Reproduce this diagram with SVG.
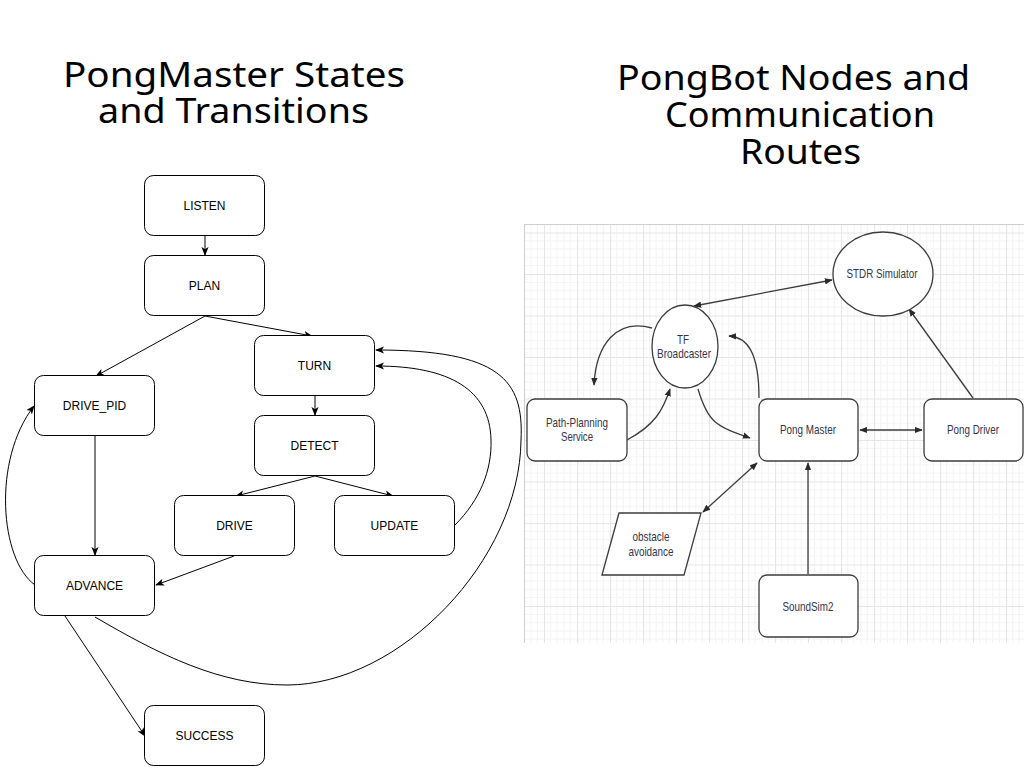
<svg xmlns="http://www.w3.org/2000/svg" width="1024" height="768" viewBox="0 0 1024 768">
<defs>
<style>
.title{font-family:"Noto Sans","Liberation Sans",sans-serif;font-size:34px;fill:#000;text-anchor:middle}
.box{fill:#fff;stroke:#000;stroke-width:1}
.lbl{font-family:"Liberation Sans",Arial,sans-serif;font-size:12px;fill:#000;text-anchor:middle}
.edge{fill:none;stroke:#000;stroke-width:1;marker-end:url(#arrL)}
.rnode{fill:#fff;stroke:#3c3c3c;stroke-width:1.3}
.rlbl{font-family:"Liberation Sans",Arial,sans-serif;font-size:13.5px;fill:#34344a;text-anchor:middle}
.redge{fill:none;stroke:#3c3c3c;stroke-width:1.3;marker-end:url(#arrR)}
.rdbl{marker-start:url(#arrR)}
</style>
<marker id="arrL" viewBox="0 0 10 8" refX="9" refY="4" markerWidth="9" markerHeight="7.5" markerUnits="userSpaceOnUse" orient="auto-start-reverse">
<path d="M0,0 L10,4 L0,8 L2.5,4 Z" fill="#000"/>
</marker>
<marker id="arrR" viewBox="0 0 10 8" refX="9" refY="4" markerWidth="8" markerHeight="7" markerUnits="userSpaceOnUse" orient="auto-start-reverse">
<path d="M0,0 L10,4 L0,8 Z" fill="#2a2a2a"/>
</marker>
<pattern id="grid" patternUnits="userSpaceOnUse" x="544" y="274" width="33" height="41.5">
<rect width="33" height="41.5" fill="#fff"/>
<g stroke="#f4f4f4" stroke-width="1">
<path d="M6.6,0V41.5M13.2,0V41.5M19.8,0V41.5M26.4,0V41.5"/>
<path d="M0,8.3H33M0,16.6H33M0,24.9H33M0,33.2H33"/>
</g>
<g stroke="#e6e6e6" stroke-width="1.2">
<path d="M0.5,0V41.5M0,0.5H33"/>
</g>
</pattern>
</defs>
<rect width="1024" height="768" fill="#fff"/>

<!-- titles -->
<g id="title-left">
<text class="title" x="234" y="87" textLength="342" lengthAdjust="spacingAndGlyphs">PongMaster States</text>
<text class="title" x="233.5" y="123" textLength="271" lengthAdjust="spacingAndGlyphs">and Transitions</text>
</g>
<g id="title-right">
<text class="title" x="793.5" y="90" textLength="353" lengthAdjust="spacingAndGlyphs">PongBot Nodes and</text>
<text class="title" x="800" y="127" textLength="270" lengthAdjust="spacingAndGlyphs">Communication</text>
<text class="title" x="800.5" y="164" textLength="121" lengthAdjust="spacingAndGlyphs">Routes</text>
</g>

<!-- left state diagram -->
<g id="left-connectors">
<path class="edge" d="M205,236 L205,255"/>
<path class="edge" d="M205,316 L96,376"/>
<path class="edge" d="M205,316 L312,336"/>
<path class="edge" d="M315,396 L315,415"/>
<path class="edge" d="M95,436 L95,555"/>
<path class="edge" d="M315,476 L236,496"/>
<path class="edge" d="M315,476 L393,496"/>
<path class="edge" d="M234,556 L156,585"/>
<path class="edge" d="M65,616 L145,736"/>
<path class="edge" d="M35,585 C0,560 -8,460 34,406"/>
<path class="edge" d="M455,525 C480,500 492,470 491,440 C490,390 450,366 376,366"/>
<path class="edge" d="M95,617 C160,655 220,685 287,685 C400,685 520,560 521,440 C524,380 500,350 376,350"/>
</g>
<g id="n-listen"><rect class="box" x="144.5" y="175.5" width="120" height="60" rx="9"/><text class="lbl" x="204.5" y="210">LISTEN</text></g>
<g id="n-plan"><rect class="box" x="144.5" y="255.5" width="120" height="60" rx="9"/><text class="lbl" x="204.5" y="290">PLAN</text></g>
<g id="n-turn"><rect class="box" x="254.5" y="335.5" width="120" height="60" rx="9"/><text class="lbl" x="314.5" y="370">TURN</text></g>
<g id="n-drive-pid"><rect class="box" x="34.5" y="375.5" width="120" height="60" rx="9"/><text class="lbl" x="94.5" y="410">DRIVE_PID</text></g>
<g id="n-detect"><rect class="box" x="254.5" y="415.5" width="120" height="60" rx="9"/><text class="lbl" x="314.5" y="450">DETECT</text></g>
<g id="n-drive"><rect class="box" x="174.5" y="495.5" width="120" height="60" rx="9"/><text class="lbl" x="234.5" y="530">DRIVE</text></g>
<g id="n-update"><rect class="box" x="334.5" y="495.5" width="120" height="60" rx="9"/><text class="lbl" x="394.5" y="530">UPDATE</text></g>
<g id="n-advance"><rect class="box" x="34.5" y="555.5" width="120" height="60" rx="9"/><text class="lbl" x="94.5" y="590">ADVANCE</text></g>
<g id="n-success"><rect class="box" x="144.5" y="705.5" width="120" height="60" rx="9"/><text class="lbl" x="204.5" y="740">SUCCESS</text></g>

<!-- right node diagram -->
<g id="grid-bg">
<rect x="524" y="224" width="500" height="419" fill="url(#grid)"/>
<path d="M524.5,224 V643 M524,224.5 H1024" stroke="#cfcfcf" stroke-width="1" fill="none"/>
</g>
<g id="right-connectors">
<path class="redge rdbl" d="M694,306 L832,280"/>
<path class="redge" d="M652,328 C616,318 596,345 594,385"/>
<path class="redge" d="M627,440 C655,425 663,410 670,389"/>
<path class="redge" d="M698,389 C708,423 716,426 750,438"/>
<path class="redge" d="M759,398 C759,352 747,337 729,336"/>
<path class="redge rdbl" d="M860,430 L922,430"/>
<path class="redge" d="M973,398 L909,309"/>
<path class="redge rdbl" d="M703,512 L757,463"/>
<path class="redge" d="M808,574 L808,463"/>
</g>
<g id="r-stdr"><ellipse class="rnode" cx="883" cy="274" rx="50" ry="42"/><text class="rlbl" x="882" y="278" textLength="71" lengthAdjust="spacingAndGlyphs">STDR Simulator</text></g>
<g id="r-tf"><ellipse class="rnode" cx="685" cy="346.5" rx="33" ry="41.5"/><text class="rlbl" x="683" y="344" textLength="12" lengthAdjust="spacingAndGlyphs">TF</text><text class="rlbl" x="684" y="358" textLength="54" lengthAdjust="spacingAndGlyphs">Broadcaster</text></g>
<g id="r-path"><rect class="rnode" x="527" y="399" width="100" height="62" rx="8"/><text class="rlbl" x="577" y="427" textLength="62" lengthAdjust="spacingAndGlyphs">Path-Planning</text><text class="rlbl" x="577" y="441" textLength="32" lengthAdjust="spacingAndGlyphs">Service</text></g>
<g id="r-master"><rect class="rnode" x="759" y="399" width="99" height="62" rx="8"/><text class="rlbl" x="808" y="434" textLength="56" lengthAdjust="spacingAndGlyphs">Pong Master</text></g>
<g id="r-driver"><rect class="rnode" x="924" y="399" width="99" height="62" rx="8"/><text class="rlbl" x="973" y="434" textLength="52" lengthAdjust="spacingAndGlyphs">Pong Driver</text></g>
<g id="r-obstacle"><polygon class="rnode" points="602,575 619,513 701,513 684,575"/><text class="rlbl" x="651" y="541" textLength="37" lengthAdjust="spacingAndGlyphs">obstacle</text><text class="rlbl" x="651" y="556" textLength="45" lengthAdjust="spacingAndGlyphs">avoidance</text></g>
<g id="r-soundsim"><rect class="rnode" x="759" y="575" width="99" height="62" rx="8"/><text class="rlbl" x="808" y="611" textLength="51" lengthAdjust="spacingAndGlyphs">SoundSim2</text></g>
</svg>
